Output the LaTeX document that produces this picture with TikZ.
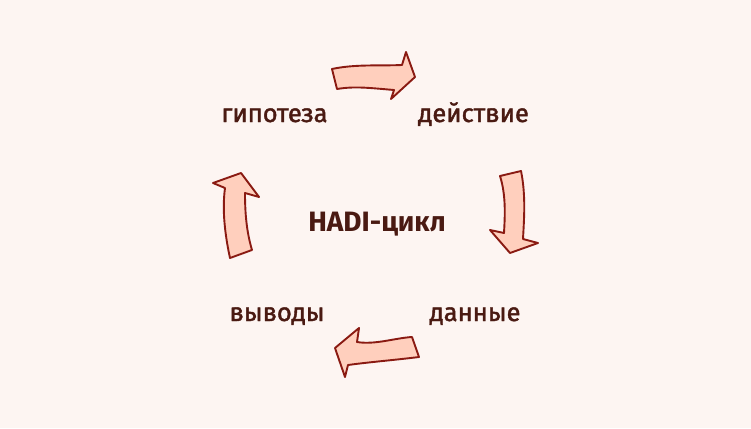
\documentclass[tikz,border=0pt]{standalone}
\usepackage{fontspec}
\setmainfont{Fira Sans}
\newfontfamily\labfont[FakeBold=1.6]{Fira Sans}
\definecolor{bgc}{HTML}{FDF5F2}
\definecolor{txtc}{HTML}{4A1A12}
\definecolor{arrfill}{HTML}{FFCFBD}
\definecolor{arrline}{HTML}{8A1A12}
\tikzset{
  lbl/.style={anchor=base, text=txtc, font=\labfont\fontsize{25.5}{25.5}\selectfont, inner sep=0pt},
  ttl/.style={anchor=base, text=txtc, font=\bfseries\fontsize{28}{28}\selectfont, inner sep=0pt},
  blockarrow/.style={fill=arrfill, draw=arrline, line width=1.9pt, line join=round}
}
\begin{document}
\begin{tikzpicture}[x=1pt,y=-1pt]
\fill[bgc] (0,0) rectangle (751,428);
\useasboundingbox (0,0) rectangle (751,428);
\node[lbl] (hyp) at (274.5,122) {гипотеза};
\node[lbl] (act) at (473.5,122) {действие};
\node[ttl] (hadi) at (377,231) {HADI-цикл};
\node[lbl] (dat) at (475,321) {данные};
\node[lbl] (con) at (277,321) {выводы};
% top arrow
\draw[blockarrow] (332,69) .. controls (355,64) and (380,66) .. (402,65) -- (406,52) -- (415,77) -- (391,99) -- (394,90) .. controls (370,88) and (355,86) .. (337,89) -- cycle;
% right arrow
\draw[blockarrow] (500,176) -- (521,171) .. controls (526,195) and (524,220) .. (523,239) -- (538,243) -- (510,253) -- (490,230) -- (504,233) .. controls (505,215) and (506,195) .. (500,176) -- cycle;
% bottom arrow
\draw[blockarrow] (412,337) -- (419,357) .. controls (395,360) and (370,362) .. (348,365) -- (345,377) -- (335,348) -- (359,328) -- (357,342) .. controls (375,345) and (395,338) .. (412,337) -- cycle;
% left arrow
\draw[blockarrow] (230,258) -- (252,250) .. controls (246,230) and (245,210) .. (245,193) -- (259,197) -- (241,173) -- (213,183) -- (225,188) .. controls (222,210) and (225,235) .. (230,258) -- cycle;
\end{tikzpicture}
\end{document}
